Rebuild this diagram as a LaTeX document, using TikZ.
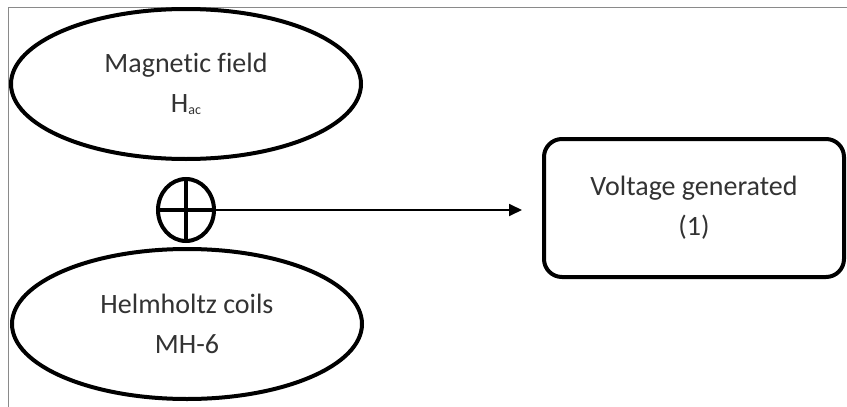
\documentclass[tikz,border=0pt]{standalone}
\usepackage{fontspec}
\setmainfont{Carlito}[Ligatures=NoCommon]
\usetikzlibrary{shapes.geometric,arrows.meta}
\definecolor{txt}{HTML}{333333}
\definecolor{frame}{HTML}{8A8A8A}
\tikzset{
  oval/.style={ellipse, draw=black, line width=4pt, minimum width=350pt, minimum height=150pt, inner sep=0pt, align=center, text=txt, font=\fontsize{28}{40}\selectfont},
  sumnode/.style={ellipse, draw=black, line width=4pt, minimum width=56pt, minimum height=62pt, inner sep=0pt},
  resbox/.style={rectangle, rounded corners=18pt, draw=black, line width=4pt, minimum width=300pt, minimum height=138pt, align=center, text=txt, font=\fontsize{28}{40}\selectfont},
  conn/.style={line width=1.8pt, -{Triangle[length=13pt,width=12pt]}}
}
\begin{document}
\begin{tikzpicture}[x=1pt,y=-1pt]
\useasboundingbox (0,0) rectangle (847,407);
\fill[white] (0,0) rectangle (847,407);
\draw[frame, line width=1pt] (8,407) -- (8,7) -- (847,7);
\node[oval] (mag) at (186,84) {Magnetic field\\H\raisebox{-2pt}{\fontsize{14}{14}\selectfont ac}};
\node[sumnode] (sum) at (186,210) {};
\draw[line width=4pt] (sum.north) -- (sum.south);
\draw[line width=4pt] (sum.west) -- (sum.east);
\node[oval] (coil) at (187,324) {Helmholtz coils\\MH-6};
\node[resbox] (volt) at (694,208) {Voltage generated\\(1)};
\draw[conn, shorten >=20pt] (sum.east) -- (sum.east -| volt.west);
\end{tikzpicture}
\end{document}
